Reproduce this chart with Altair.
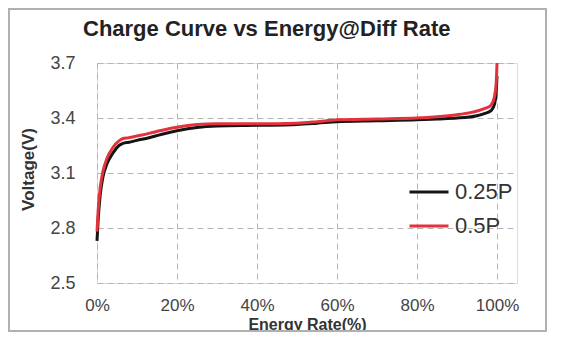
import altair as alt
import pandas as pd

# Energy rate (%) sample points
energy = [0, 0.3, 0.8, 1.5, 2.5, 4, 5.5, 6.5, 8, 10, 13, 16, 20, 25, 30, 40, 50,
          55, 60, 70, 80, 85, 90, 93, 95, 97, 98.5, 99.3, 99.8, 100]
# Voltage for 0.25P
v_025 = [2.73, 2.85, 2.98, 3.08, 3.15, 3.21, 3.25, 3.262, 3.268, 3.278, 3.292, 3.31,
         3.33, 3.348, 3.356, 3.36, 3.365, 3.372, 3.38, 3.385, 3.39, 3.395, 3.40,
         3.405, 3.412, 3.425, 3.44, 3.47, 3.54, 3.63]
# Voltage for 0.5P
v_05 = [2.78, 2.9, 3.02, 3.11, 3.18, 3.24, 3.275, 3.288, 3.293, 3.302, 3.316, 3.332,
        3.35, 3.364, 3.368, 3.368, 3.372, 3.38, 3.39, 3.395, 3.40, 3.407, 3.418,
        3.428, 3.438, 3.452, 3.47, 3.51, 3.59, 3.70]

series_names = ["0.25P", "0.5P"]
series_colors = ["#141414", "#e3323b"]

x_ticks = [0, 20, 40, 60, 80, 100]
y_ticks = [2.5, 2.8, 3.1, 3.4, 3.7]

df_a = pd.DataFrame({"energy": energy, "voltage": v_025, "series": series_names[0]})
df_b = pd.DataFrame({"energy": energy, "voltage": v_05, "series": series_names[1]})

FONT = "Liberation Sans"

x_enc = alt.X("energy:Q",
              scale=alt.Scale(domain=[0, 105], nice=False, zero=False),
              axis=alt.Axis(values=x_ticks, labelExpr="datum.value + '%'",
                            title="Energy Rate(%)", grid=True, gridDash=[6, 4],
                            gridColor="#b5b5b5", gridWidth=1, ticks=False, domain=False,
                            labelFlush=False,
                            labelFontSize=17, labelColor="#444", labelFont=FONT,
                            labelPadding=14, titleFontSize=16, titleFont=FONT,
                            titleFontWeight="bold", titleColor="#333",
                            titleY=33, titleBaseline="top"))
y_enc = alt.Y("voltage:Q",
              scale=alt.Scale(domain=[2.5, 3.7], nice=False, zero=False),
              axis=alt.Axis(values=y_ticks, format=".1f", title="Voltage(V)",
                            grid=True, gridDash=[6, 4], gridColor="#b5b5b5", gridWidth=1,
                            ticks=False, domain=False, labelFlush=False,
                            labelFontSize=18, labelColor="#444",
                            labelFont=FONT, labelPadding=22, titleFontSize=17,
                            titleFont=FONT, titleFontWeight="bold", titleColor="#333",
                            titleX=-60, titleY=106))
color_enc = alt.Color("series:N",
                      scale=alt.Scale(domain=series_names, range=series_colors),
                      legend=alt.Legend(title=None, orient="none", legendX=311, legendY=108,
                                        symbolType="stroke", symbolSize=1521,
                                        symbolStrokeWidth=3, labelFontSize=22,
                                        labelFont=FONT, labelColor="#333",
                                        labelOffset=5, rowPadding=2))

line_a = alt.Chart(df_a).mark_line(strokeWidth=3, interpolate="monotone").encode(
    x=x_enc, y=y_enc, color=color_enc)
line_b = alt.Chart(df_b).mark_line(strokeWidth=3, interpolate="monotone").encode(
    x=x_enc, y=y_enc, color=color_enc)

frame = alt.Chart(pd.DataFrame({"k": [0]})).mark_rect(
    fill=None, stroke="#b0b0b0", strokeWidth=2).encode(
    x=alt.value(-88), x2=alt.value(449), y=alt.value(-54), y2=alt.value(268))

chart = alt.layer(frame, line_a, line_b).properties(
    width=420, height=220,
    title=alt.TitleParams("Charge Curve vs Energy@Diff Rate", anchor="start", frame="group",
                          dx=-14, fontSize=22, font=FONT, fontWeight="bold", color="#222",
                          offset=-33),
    autosize=alt.AutoSizeParams(type="none"),
    padding={"left": 89, "top": 55, "right": 38, "bottom": 49},
).configure_view(stroke="#9a9a9a", strokeWidth=1.5).configure(background="white")

chart.save("out.html", embed_options={"renderer": "svg", "actions": False})
